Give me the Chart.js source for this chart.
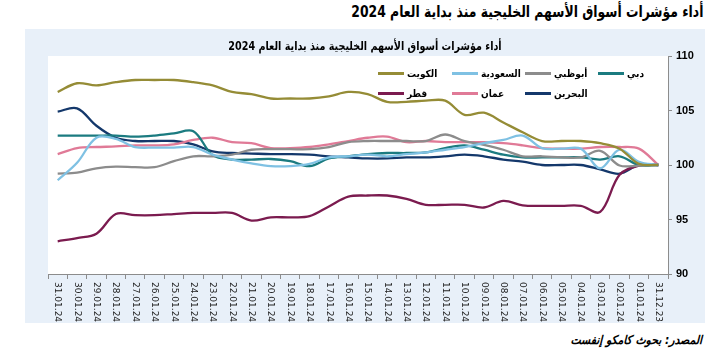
<!DOCTYPE html>
<html><head><meta charset="utf-8">
<script src="https://cdn.jsdelivr.net/npm/chart.js@4.4.1/dist/chart.umd.min.js"></script>
<style>
html,body{margin:0;padding:0;background:#fff;width:714px;height:360px;overflow:hidden;}
#heading{position:absolute;right:11px;top:2px;font:bold 16px "DejaVu Sans Condensed","DejaVu Sans",sans-serif;direction:rtl;color:#000;white-space:nowrap;transform:scaleX(0.86);transform-origin:right center;}
#panel{position:absolute;left:25px;top:29px;width:680px;height:294px;background:#e8f0f9;}
#title{position:absolute;left:0;width:680px;top:10px;text-align:center;font:bold 12px "DejaVu Sans Condensed","DejaVu Sans",sans-serif;direction:rtl;color:#000;white-space:nowrap;transform:scaleX(0.89);transform-origin:center center;}
#chart{position:absolute;left:0;top:0;}
#source{position:absolute;right:12px;top:333px;font:italic bold 12px "DejaVu Sans Condensed","DejaVu Sans",sans-serif;direction:rtl;color:#000;white-space:nowrap;}
.lg{position:absolute;display:flex;align-items:center;height:14px;font:bold 10px "DejaVu Sans Condensed","DejaVu Sans",sans-serif;color:#000;white-space:nowrap;}
.lg .ln{display:inline-block;width:26px;height:3px;margin-right:3px;}
</style>
</head><body>
<div id="heading">أداء مؤشرات أسواق الأسهم الخليجية منذ بداية العام 2024</div>
<div id="panel">
  <canvas id="chart" width="680" height="294"></canvas>
  <div id="title">أداء مؤشرات أسواق الأسهم الخليجية منذ بداية العام 2024</div>
</div>
<div id="legend"></div>
<div id="source">المصدر: بحوث كامكو إنفست</div>
<script>
// Dates (chronological; axis is drawn reversed)
const dates = ["31.12.23","01.01.24","02.01.24","03.01.24","04.01.24","05.01.24","06.01.24","07.01.24","08.01.24","09.01.24","10.01.24","11.01.24","12.01.24","13.01.24","14.01.24","15.01.24","16.01.24","17.01.24","18.01.24","19.01.24","20.01.24","21.01.24","22.01.24","23.01.24","24.01.24","25.01.24","26.01.24","27.01.24","28.01.24","29.01.24","30.01.24","31.01.24"];
const yTicks = [90, 95, 100, 105, 110];

const kuwait  = [100,100.1,101.5,102.0,102.2,102.2,102.2,103.0,103.9,104.8,104.6,105.9,105.9,105.8,105.8,106.5,106.7,106.3,106.1,106.1,106.1,106.5,106.7,107.3,107.6,107.8,107.8,107.8,107.6,107.3,107.5,106.7];
const saudi   = [100,100.3,101.4,99.7,101.5,101.5,101.55,102.7,102.3,102.0,101.65,101.4,101.15,101.0,100.8,100.95,100.8,100.7,100.1,99.9,99.9,100.15,100.5,100.95,101.65,101.6,101.6,101.65,102.4,102.5,100.2,98.6];
const abudhabi= [100,99.95,99.95,101.3,100.7,100.7,100.8,100.8,101.4,101.85,102.2,102.8,102.2,102.2,102.2,102.2,102.1,101.65,101.45,101.45,101.45,101.4,100.95,100.8,100.8,100.35,99.8,99.8,99.85,99.7,99.3,99.2];
const dubai   = [100,100.0,100.8,100.5,100.7,100.7,100.7,100.7,100.95,101.4,101.8,101.55,101.15,101.1,101.1,101.0,100.8,100.6,99.9,100.35,100.55,100.5,100.5,100.9,103.1,102.9,102.7,102.6,102.7,102.7,102.7,102.7];
const qatar   = [100,99.95,99.1,95.7,96.25,96.25,96.25,96.3,96.7,96.1,96.35,96.35,96.35,96.9,97.2,97.2,97.1,96.2,95.3,95.2,95.2,94.9,95.6,95.6,95.6,95.5,95.4,95.4,95.5,93.7,93.3,93.0];
const oman    = [100,101.5,101.65,101.65,101.5,101.5,101.55,101.8,102.0,102.1,102.1,102.1,102.2,102.1,102.6,102.5,102.2,101.9,101.65,101.55,101.55,102.0,102.1,102.5,102.3,101.9,101.8,101.8,101.7,101.65,101.55,101.0];
const bahrain = [100,100.0,99.2,99.6,100.0,100.0,100.0,100.3,100.5,100.8,100.95,100.8,100.7,100.7,100.6,100.6,100.7,100.8,100.95,101.0,101.0,101.05,101.1,101.25,101.9,102.2,102.2,102.2,102.5,103.6,105.2,104.9];

const series = [
  {label:"الكويت",   data:kuwait,   color:"#958c36"},
  {label:"السعودية", data:saudi,    color:"#7fc1e3"},
  {label:"أبوظبي",   data:abudhabi, color:"#8c8c8c"},
  {label:"دبي",      data:dubai,    color:"#1b7b80"},
  {label:"قطر",      data:qatar,    color:"#7b1b4f"},
  {label:"عمان",     data:oman,     color:"#e07a97"},
  {label:"البحرين",  data:bahrain,  color:"#14386b"}
];

// legend layout (page coordinates)
const legendSlots = {"الكويت":[378,66],"السعودية":[452,66],"أبوظبي":[525,66],"دبي":[598,66],"قطر":[378,86],"عمان":[452,86],"البحرين":[525,86]};
const lg = document.getElementById('legend');
series.forEach(s=>{
  const d=document.createElement('div'); d.className='lg';
  const p=legendSlots[s.label]; d.style.left=p[0]+'px'; d.style.top=p[1]+'px';
  const ln=document.createElement('span'); ln.className='ln'; ln.style.background=s.color;
  const tx=document.createElement('span'); tx.textContent=s.label; tx.style.direction='rtl';
  d.appendChild(ln); d.appendChild(tx); lg.appendChild(d);
});

const custom = {
  id:'custom',
  beforeDraw(chart){
    const {ctx, chartArea:a} = chart;
    ctx.save(); ctx.fillStyle='#ffffff';
    ctx.fillRect(a.left, a.top, a.right-a.left, a.bottom-a.top);
    ctx.restore();
  },
  afterDraw(chart){
    const ctx = chart.ctx, xs = chart.scales.x;
    ctx.save();
    ctx.font = '9px "DejaVu Sans", sans-serif';
    ctx.fillStyle = '#222';
    ctx.textAlign = 'left'; ctx.textBaseline = 'middle';
    xs.ticks.forEach((t,i)=>{
      const x = xs.getPixelForTick(i);
      ctx.save(); ctx.translate(x, xs.top + 8); ctx.rotate(Math.PI/2);
      ctx.fillText(xs.getLabelForValue(t.value), 0, 0);
      ctx.restore();
    });
    ctx.restore();
  }
};

new Chart(document.getElementById('chart'), {
  type:'line',
  data:{
    labels: dates,
    datasets: series.map(s=>({label:s.label, data:s.data, borderColor:s.color, backgroundColor:s.color, borderWidth:2.3, pointRadius:0, tension:0.35, fill:false}))
  },
  options:{
    responsive:false, animation:false, devicePixelRatio:1,
    layout:{padding:{left:23, top:27, right:0, bottom:0}},
    plugins:{legend:{display:false}, title:{display:false}, tooltip:{enabled:false}},
    scales:{
      x:{type:'category', reverse:true, offset:true,
         grid:{display:true, drawOnChartArea:false, drawTicks:true, tickLength:5, offset:true, color:'#8c8c8c'},
         border:{color:'#8c8c8c'},
         ticks:{display:false},
         afterFit(s){ s.height = 49; }},
      y:{position:'right', min:90, max:110,
         afterBuildTicks(s){ s.ticks = yTicks.map(v=>({value:v})); },
         ticks:{font:{family:'"Liberation Sans", Arial, sans-serif', size:11, weight:'bold'}, color:'#000', padding:4},
         grid:{drawOnChartArea:false, drawTicks:true, tickLength:4, color:'#8c8c8c'},
         border:{color:'#8c8c8c'},
         afterFit(s){ s.width = 37; }}
    }
  },
  plugins:[custom]
});
</script>
</body></html>
